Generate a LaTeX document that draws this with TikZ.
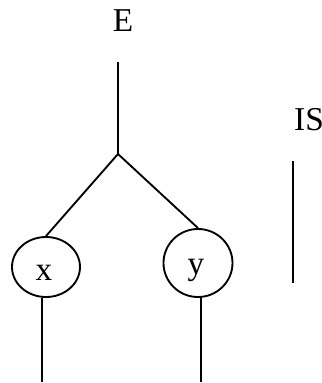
\documentclass[tikz,border=0pt]{standalone}
\usepackage{fontspec}
\setmainfont{Liberation Serif}
\usetikzlibrary{shapes.geometric}
\begin{document}
\begin{tikzpicture}[x=0.75pt,y=-0.75pt,
  wire/.style={line width=1.4pt},
  lbl/.style={anchor=base,inner sep=0pt,font=\fontsize{25}{30}\selectfont},
  varnode/.style={draw,ellipse,line width=1.4pt,inner sep=0pt}]
  \useasboundingbox (0,0) rectangle (322,383);
  % labels
  \node[lbl] (E) at (123,31) {E};
  \node[lbl] (IS) at (309,130) {IS};
  % variable nodes
  \node[varnode,minimum width=68*0.75pt,minimum height=60*0.75pt] (nx) at (46,267) {};
  \node[varnode,minimum width=69*0.75pt,minimum height=68*0.75pt] (ny) at (198,263) {};
  \node[lbl] (tx) at (44,280) {x};
  \node[lbl] (ty) at (196,274) {y};
  % wire ends
  \coordinate (top) at (118,62);
  \coordinate (fork) at (118,154);
  \coordinate (xend) at (42,382);
  \coordinate (yend) at (201,382);
  \coordinate (istop) at (293,161);
  \coordinate (isbot) at (293,283);
  % wires
  \draw[wire] (top) -- (fork);
  \draw[wire] (fork) -- (nx.north);
  \draw[wire] (fork) -- (ny.north);
  \draw[wire] (nx.south -| xend) -- (xend);
  \draw[wire] (ny.south -| yend) -- (yend);
  \draw[wire] (istop) -- (isbot);
\end{tikzpicture}
\end{document}
